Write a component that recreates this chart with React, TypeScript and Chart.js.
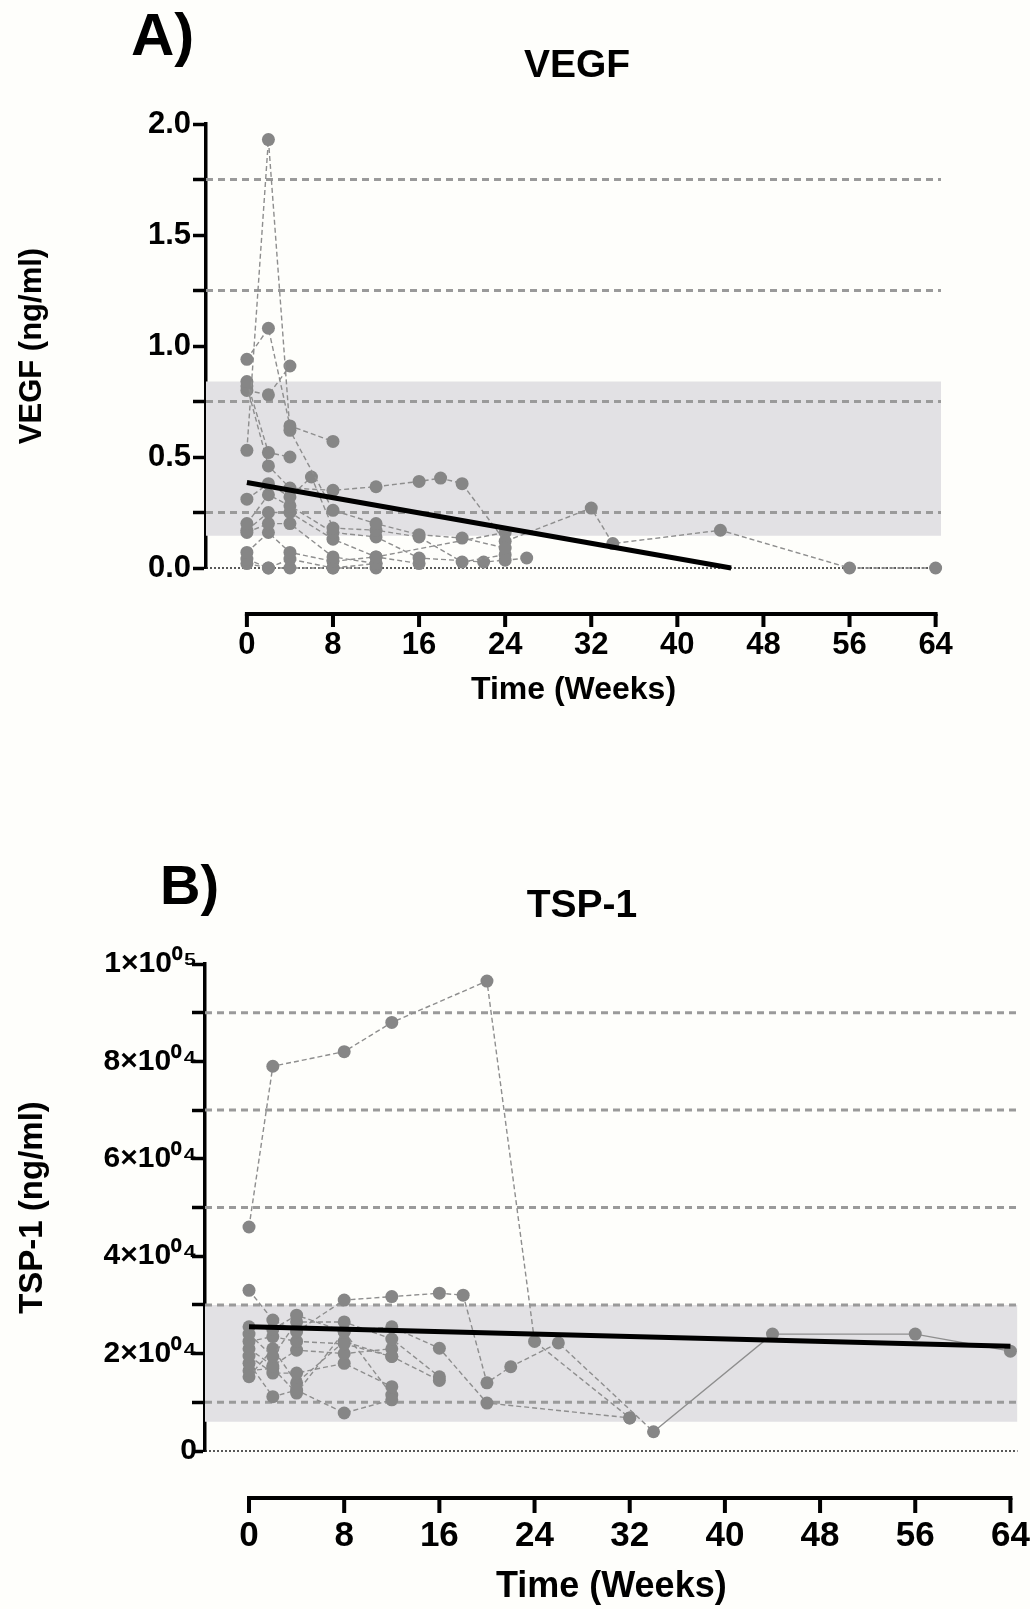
import React, { useEffect, useRef } from 'react';
import { Chart, registerables } from 'chart.js';

Chart.register(...registerables);

const FONT = "'Liberation Sans', Arial, Helvetica, sans-serif";

type Pt = [number, number];

// ---------------- shared ----------------
const weekTicks = [0, 8, 16, 24, 32, 40, 48, 56, 64];
const xTitle = 'Time (Weeks)';

// ---------------- Panel A : VEGF ----------------
const vegfTitle = 'VEGF';
const vegfYTitle = 'VEGF (ng/ml)';
const vegfTickValues = [0, 0.25, 0.5, 0.75, 1, 1.25, 1.5, 1.75, 2];
const vegfTickLabels = ['0.0', '', '0.5', '', '1.0', '', '1.5', '', '2.0'];
const vegfRefLines = [0.25, 0.75, 1.25, 1.75];
const vegfBand = [0.145, 0.84];
const vegfRegression: Pt[] = [[0, 0.385], [45, 0]];
const vegfXRange = [-3.8, 64.5];
const vegfPatients: Pt[][] = [
  [[0, 0.94], [2, 1.08], [4, 0.64], [8, 0.57]],
  [[0, 0.53], [2, 1.93], [4, 0.62], [8, 0.26], [12, 0.2], [16, 0.15], [20, 0.135], [24, 0.09]],
  [[0, 0.84], [2, 0.52], [4, 0.5]],
  [[0, 0.82], [2, 0.46], [4, 0.36], [8, 0.35], [12, 0.366], [16, 0.39], [18, 0.405], [20, 0.38], [24, 0.12], [32, 0.27], [34, 0.11], [44, 0.17], [56, 0], [64, 0]],
  [[0, 0.8], [2, 0.78], [4, 0.91]],
  [[0, 0.31], [2, 0.38], [4, 0.32], [6, 0.41], [8, 0.18], [12, 0.17], [16, 0.14], [20, 0.027], [24, 0.06]],
  [[0, 0.2], [2, 0.33], [4, 0.28], [8, 0.16], [12, 0.14], [16, 0.045], [22, 0.027], [24, 0.035], [26, 0.045]],
  [[0, 0.17], [2, 0.25], [4, 0.25], [8, 0.13], [12, 0.05], [16, 0.02]],
  [[0, 0.16], [2, 0.2], [4, 0.2], [8, 0.05], [12, 0.02]],
  [[0, 0.07], [2, 0.16], [4, 0.07], [8, 0.03], [12, 0.05], [24, 0.16]],
  [[0, 0.04], [2, 0.0], [4, 0.04], [8, 0.0], [12, 0.0]],
  [[0, 0.02], [2, 0.0], [4, 0.0], [8, 0.0], [12, 0.02]],
];

// ---------------- Panel B : TSP-1 ----------------
const tspTitle = 'TSP-1';
const tspYTitle = 'TSP-1 (ng/ml)';
const tspTickValues = [0, 10000, 20000, 30000, 40000, 50000, 60000, 70000, 80000, 90000, 100000];
const tspTickLabels = ['0', '', '2×10⁰⁴', '', '4×10⁰⁴', '', '6×10⁰⁴', '', '8×10⁰⁴', '', '1×10⁰⁵'];
const tspRefLines = [10000, 30000, 50000, 70000, 90000];
const tspBand = [6000, 30000];
const tspRegression: Pt[] = [[0, 25500], [64, 21500]];
const tspXRange = [-3.7, 64.6];
const tspSolidTailPatient = 1;
const tspSolidFromWeek = 34;
const tspPatients: Pt[][] = [
  [[0, 46000], [2, 79000], [8, 82000], [12, 88000], [20, 96500], [24, 22500], [32, 6800]],
  [[0, 33000], [2, 26900], [4, 24500], [8, 31000], [12, 31700], [16, 32400], [18, 32000], [20, 14000], [22, 17300], [26, 22200], [34, 3950], [44, 24000], [56, 24000], [64, 20500]],
  [[0, 25500], [2, 25000], [4, 27900], [8, 24500], [12, 25500], [16, 21100], [20, 9850], [32, 6800]],
  [[0, 24000], [2, 19400], [4, 26500], [8, 26500], [12, 23000], [16, 15250]],
  [[0, 22500], [2, 23500], [4, 22500], [8, 22000], [12, 19400], [16, 14500]],
  [[0, 21000], [2, 17500], [4, 20700], [8, 20000], [12, 21000]],
  [[0, 19500], [2, 16000], [4, 16000], [8, 18000], [12, 13200]],
  [[0, 18000], [2, 11150], [4, 12500], [8, 7800], [12, 10500]],
  [[0, 16500], [2, 17000], [4, 11900], [8, 24500], [12, 11500]],
  [[0, 15250], [2, 21000], [4, 14000], [8, 22500], [12, 19400]],
];

// ---------------- plugin: offset (Prism style) x axis ----------------
const offsetXAxis = {
  id: 'offsetXAxis',
  afterDraw(chart: any, _args: any, opts: any) {
    const { ctx, chartArea } = chart;
    const xs = chart.scales.x;
    const ticks: number[] = opts.ticks;
    const y = chartArea.bottom + opts.offset;
    ctx.save();
    ctx.strokeStyle = '#000';
    ctx.lineWidth = opts.width;
    ctx.lineCap = 'square';
    ctx.beginPath();
    ctx.moveTo(xs.getPixelForValue(ticks[0]), y);
    ctx.lineTo(xs.getPixelForValue(ticks[ticks.length - 1]), y);
    ctx.stroke();
    ctx.lineCap = 'butt';
    ctx.beginPath();
    ticks.forEach((t) => {
      const px = xs.getPixelForValue(t);
      ctx.moveTo(px, y);
      ctx.lineTo(px, y + opts.tickLen);
    });
    ctx.stroke();
    ctx.restore();
  },
};

type PanelSpec = {
  patients: Pt[][];
  refLines: number[];
  band: number[];
  regression: Pt[];
  xRange: number[];
  yMax: number;
  tickValues: number[];
  tickLabels: string[];
  yTitle: string;
  padding: { top: number; left: number; right: number; bottom: number };
  yWidth: number;
  yTickFont: number;
  yTickPad: number;
  yTitleFont: number;
  yTitlePad: number;
  xTickFont: number;
  xTickGap: number;
  xTitleFont: number;
  xTitlePad: number;
  axisOffset: number;
  axisTickLen: number;
  solidTail?: { index: number; from: number };
};

function buildConfig(p: PanelSpec): any {
  const [xMin, xMax] = p.xRange;
  const datasets: any[] = [];
  datasets.push({
    label: 'regression',
    data: p.regression.map(([x, y]) => ({ x, y })),
    borderColor: '#000',
    borderWidth: 5,
    pointRadius: 0,
    order: 0,
  });
  p.patients.forEach((pts, i) => {
    const ds: any = {
      label: 'patient ' + (i + 1),
      data: pts.map(([x, y]) => ({ x, y })),
      borderColor: '#8e8e8e',
      borderWidth: 1.4,
      borderDash: [5, 3],
      pointRadius: 6.5,
      pointBackgroundColor: '#868686',
      pointBorderWidth: 0,
      order: 1,
    };
    if (p.solidTail && p.solidTail.index === i) {
      const from = p.solidTail.from;
      ds.segment = {
        borderDash: (c: any) => (c.p0.parsed.x >= from ? [] : [5, 3]),
      };
    }
    datasets.push(ds);
  });
  datasets.push({
    label: 'zero',
    data: [{ x: xMin, y: 0 }, { x: xMax, y: 0 }],
    borderColor: '#222',
    borderWidth: 1.5,
    borderDash: [2, 2],
    pointRadius: 0,
    order: 2,
  });
  p.refLines.forEach((v) => {
    datasets.push({
      label: 'ref ' + v,
      data: [{ x: xMin, y: v }, { x: xMax, y: v }],
      borderColor: '#9a9a9a',
      borderWidth: 3,
      borderDash: [7, 5],
      pointRadius: 0,
      order: 3,
    });
  });
  datasets.push({
    label: 'band',
    data: [{ x: xMin, y: p.band[1] }, { x: xMax, y: p.band[1] }],
    borderWidth: 0,
    borderColor: 'rgba(0,0,0,0)',
    backgroundColor: '#e2e1e4',
    fill: { value: p.band[0] },
    pointRadius: 0,
    order: 4,
  });

  return {
    type: 'line',
    data: { datasets },
    plugins: [offsetXAxis],
    options: {
      animation: false,
      responsive: false,
      devicePixelRatio: 1,
      events: [],
      clip: false,
      layout: { padding: p.padding },
      datasets: { line: { clip: false, tension: 0 } },
      plugins: {
        legend: { display: false },
        tooltip: { enabled: false },
        title: { display: false },
        offsetXAxis: {
          ticks: weekTicks,
          offset: p.axisOffset,
          width: 4,
          tickLen: p.axisTickLen,
        },
      },
      scales: {
        x: {
          type: 'linear',
          min: xMin,
          max: xMax,
          afterBuildTicks: (s: any) => {
            s.ticks = weekTicks.map((v) => ({ value: v }));
          },
          ticks: {
            autoSkip: false,
            maxRotation: 0,
            minRotation: 0,
            padding: 0,
            color: '#000',
            font: { family: FONT, size: p.xTickFont, weight: 'bold' },
            callback: (v: any) => String(v),
          },
          grid: { display: false, drawTicks: true, tickLength: p.xTickGap },
          border: { display: false },
          title: {
            display: true,
            text: xTitle,
            color: '#000',
            font: { family: FONT, size: p.xTitleFont, weight: 'bold' },
            padding: { top: p.xTitlePad, bottom: 0 },
          },
        },
        y: {
          type: 'linear',
          min: 0,
          max: p.yMax,
          afterBuildTicks: (s: any) => {
            s.ticks = p.tickValues.map((v) => ({ value: v }));
          },
          afterFit: (s: any) => {
            s.width = p.yWidth;
          },
          ticks: {
            autoSkip: false,
            padding: p.yTickPad,
            color: '#000',
            font: { family: FONT, size: p.yTickFont, weight: 'bold' },
            callback: (v: any) => {
              const i = p.tickValues.indexOf(Number(v));
              return i >= 0 ? p.tickLabels[i] : '';
            },
          },
          grid: {
            display: true,
            drawOnChartArea: false,
            drawTicks: true,
            tickLength: 13,
            tickWidth: 3.5,
            tickColor: '#000',
          },
          border: { display: true, color: '#000', width: 3.5 },
          title: {
            display: true,
            text: p.yTitle,
            color: '#000',
            font: { family: FONT, size: p.yTitleFont, weight: 'bold' },
            padding: { top: p.yTitlePad, bottom: 0 },
          },
        },
      },
    },
  };
}

const panelA: PanelSpec = {
  patients: vegfPatients,
  refLines: vegfRefLines,
  band: vegfBand,
  regression: vegfRegression,
  xRange: vegfXRange,
  yMax: 2,
  tickValues: vegfTickValues,
  tickLabels: vegfTickLabels,
  yTitle: vegfYTitle,
  padding: { top: 124, left: 0, right: 89, bottom: 30.8 },
  yWidth: 206,
  yTickFont: 31,
  yTickPad: 2,
  yTitleFont: 31,
  yTitlePad: 13.4,
  xTickFont: 31,
  xTickGap: 58.4,
  xTitleFont: 32,
  xTitlePad: 7.2,
  axisOffset: 46,
  axisTickLen: 13,
};

const panelB: PanelSpec = {
  patients: tspPatients,
  refLines: tspRefLines,
  band: tspBand,
  regression: tspRegression,
  xRange: tspXRange,
  yMax: 100000,
  tickValues: tspTickValues,
  tickLabels: tspTickLabels,
  yTitle: tspYTitle,
  padding: { top: 204, left: 0, right: 12, bottom: 0.4 },
  yWidth: 205,
  yTickFont: 30,
  yTickPad: -5,
  yTitleFont: 33,
  yTitlePad: 13.2,
  xTickFont: 35,
  xTickGap: 64,
  xTitleFont: 36,
  xTitlePad: 8.4,
  axisOffset: 47,
  axisTickLen: 15,
  solidTail: { index: tspSolidTailPatient, from: tspSolidFromWeek },
};

function Panel({ spec, top, height }: { spec: PanelSpec; top: number; height: number }) {
  const ref = useRef<HTMLCanvasElement | null>(null);
  useEffect(() => {
    if (!ref.current) return;
    const chart = new Chart(ref.current, buildConfig(spec));
    return () => chart.destroy();
  }, [spec]);
  return (
    <canvas
      ref={ref}
      width={1030}
      height={height}
      style={{ position: 'absolute', left: 0, top, width: 1030, height }}
    />
  );
}

function Text({ text, left, top, size, width, center }: { text: string; left: number; top: number; size: number; width?: number; center?: boolean }) {
  return (
    <div
      style={{
        position: 'absolute',
        left,
        top,
        width,
        textAlign: center ? 'center' : 'left',
        fontFamily: FONT,
        fontWeight: 'bold',
        fontSize: size,
        lineHeight: size + 'px',
        color: '#000',
        whiteSpace: 'nowrap',
      }}
    >
      {text}
    </div>
  );
}

export default function App() {
  return (
    <div
      style={{
        position: 'absolute',
        left: 0,
        top: 0,
        width: 1030,
        height: 1609,
        background: '#fefefb',
        overflow: 'hidden',
      }}
    >
      <Panel spec={panelA} top={0} height={740} />
      <Panel spec={panelB} top={760} height={849} />
      <Text text="A)" left={131} top={5} size={60} />
      <Text text="B)" left={160} top={857} size={56} />
      <Text text={vegfTitle} left={377} top={44} size={39} width={400} center />
      <Text text={tspTitle} left={382} top={884} size={39} width={400} center />
    </div>
  );
}
